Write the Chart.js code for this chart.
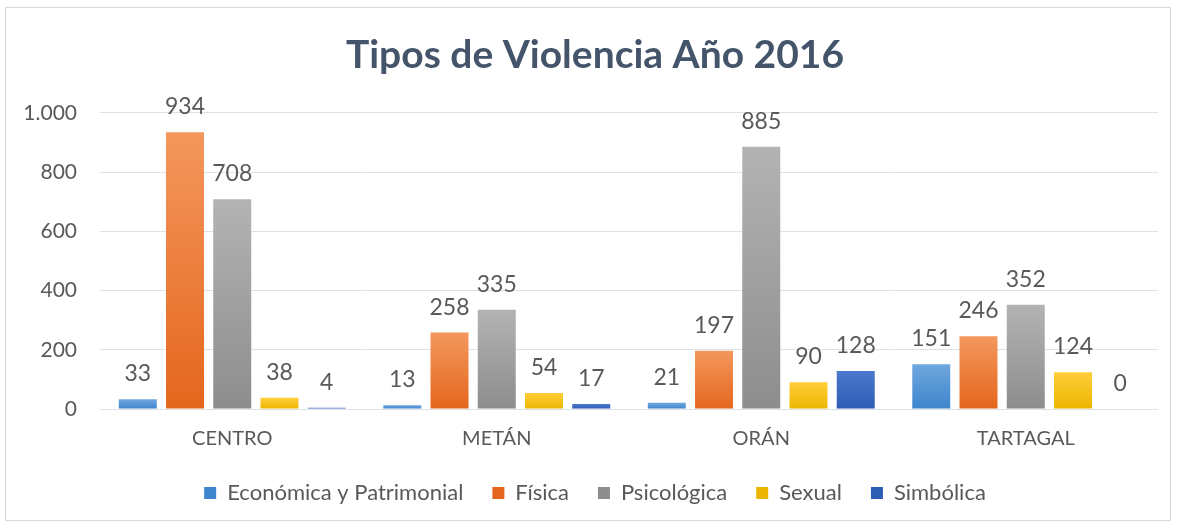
<!DOCTYPE html>
<html>
<head>
<meta charset="utf-8">
<script src="https://cdn.jsdelivr.net/npm/chart.js@4/dist/chart.umd.min.js"></script>
<style>
  body { margin: 0; background: #fff; }
  #wrap { position: absolute; left: 5px; top: 7px; width: 1164px; height: 512px; border: 1px solid #d9d9d9; }
</style>
</head>
<body>
<div id="wrap"><canvas id="myBarChart"></canvas></div>
<script>
var regiones = ['CENTRO', 'METÁN', 'ORÁN', 'TARTAGAL'];
var economica = [33, 13, 21, 151];
var fisica = [934, 258, 197, 246];
var psicologica = [708, 335, 885, 352];
var sexual = [38, 54, 90, 124];
var simbolica = [4, 17, 128, 0];
var yTicks = [0, 200, 400, 600, 800, 1000];

// -- gradient per bar, lighter on top
function grad(top, bottom) {
  return function (ctx) {
    if (ctx.type !== 'data') return bottom;
    var chart = ctx.chart, y = chart.scales.y;
    if (!y || !chart.chartArea) return bottom;
    var y0 = y.getPixelForValue(0);
    var y1 = y.getPixelForValue(ctx.raw);
    if (y1 >= y0) y1 = y0 - 1;
    var g = chart.ctx.createLinearGradient(0, y1, 0, y0);
    g.addColorStop(0, top);
    g.addColorStop(1, bottom);
    return g;
  };
}

var valueLabels = {
  id: 'valueLabels',
  afterLayout: function (chart) {
    // let the y tick labels run past the axis box without being clipped
    chart.scales.y.left = 0;
  },
  afterDatasetsDraw: function (chart) {
    var c = chart.ctx;
    c.save();
    c.font = '23px Lato';
    c.fillStyle = '#595959';
    c.textAlign = 'center';
    c.textBaseline = 'alphabetic';
    chart.data.datasets.forEach(function (ds, i) {
      chart.getDatasetMeta(i).data.forEach(function (bar, j) {
        c.fillText(ds.data[j], bar.x, bar.y - 18);
      });
    });
    c.restore();
  }
};

Chart.defaults.font.family = 'Lato';
Chart.defaults.color = '#595959';

var ctx = document.getElementById('myBarChart');

var myBarChart = new Chart(ctx, {
  type: 'bar',
  data: {
    labels: regiones,
    datasets: [
      { label: 'Económica y Patrimonial', data: economica, backgroundColor: grad('#70a7de', '#3d85cd') },
      { label: 'Física', data: fisica, backgroundColor: grad('#f4975d', '#e4661d') },
      { label: 'Psicológica', data: psicologica, backgroundColor: grad('#b3b3b3', '#8d8d8d') },
      { label: 'Sexual', data: sexual, backgroundColor: grad('#ffce3a', '#ecb600') },
      { label: 'Simbólica', data: simbolica, backgroundColor: grad('#4b79cd', '#2d5cb4') }
    ]
  },
  options: {
    responsive: true,
    maintainAspectRatio: false,
    animation: false,
    events: [],
    categoryPercentage: 0.893,
    barPercentage: 0.804,
    layout: { padding: { left: 26, right: 12, top: 0, bottom: 6 } },
    plugins: {
      title: {
        display: true,
        text: 'Tipos de Violencia Año 2016',
        color: '#44546a',
        font: { size: 39, weight: 'bold' },
        padding: { top: 24, bottom: 34 }
      },
      legend: {
        position: 'bottom',
        labels: {
          boxWidth: 12,
          boxHeight: 12,
          padding: 29,
          color: '#595959',
          font: { size: 22 }
        }
      },
      tooltip: { enabled: false }
    },
    scales: {
      x: {
        grid: { display: false },
        border: { display: false },
        ticks: { padding: 10, font: { size: 20 }, color: '#595959' },
        afterFit: function (s) { s.height = 44; }
      },
      y: {
        min: 0,
        max: 1000,
        afterBuildTicks: function (s) { s.ticks = yTicks.map(function (v) { return { value: v }; }); },
        afterFit: function (s) { s.width = 68; },
        grid: { color: '#dde1e8', drawTicks: false },
        border: { display: false },
        ticks: {
          padding: 23,
          font: { size: 21 },
          color: '#595959',
          callback: function (v) { return String(v).replace(/\B(?=(\d{3})+(?!\d))/g, '.'); }
        }
      }
    }
  },
  plugins: [valueLabels]
});
</script>
</body>
</html>
